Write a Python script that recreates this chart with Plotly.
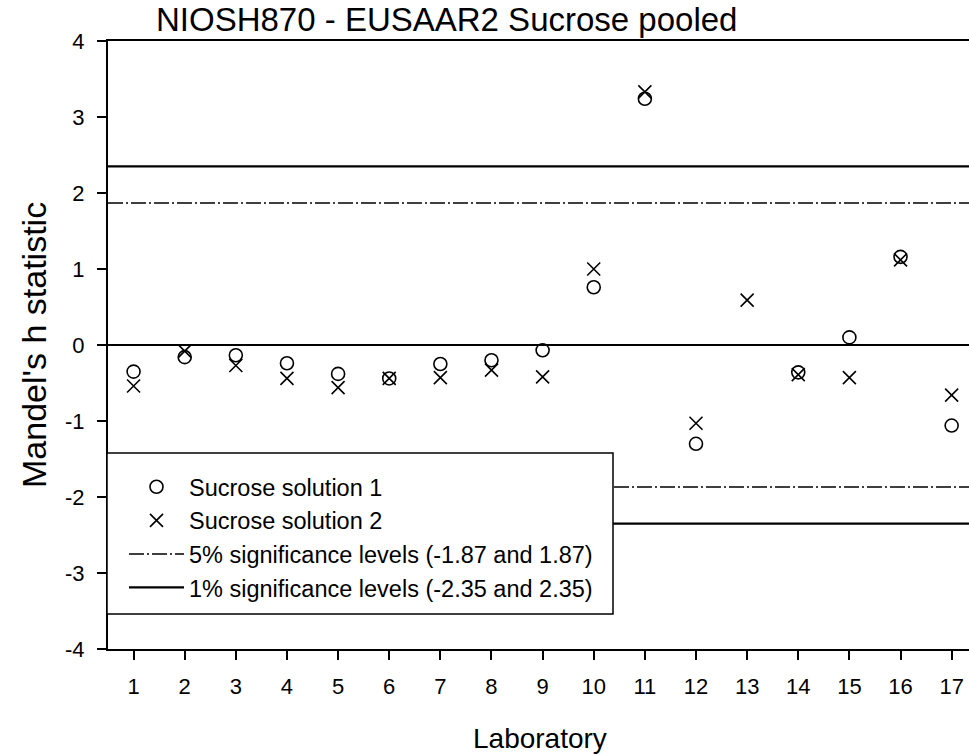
import plotly.graph_objects as go

# ---- data ----
laboratories = list(range(1, 18))
sucrose_1 = [-0.35, -0.16, -0.135, -0.24, -0.38, -0.44, -0.25, -0.20, -0.07,
             0.76, 3.24, -1.30, None, -0.36, 0.10, 1.16, -1.06]
sucrose_2 = [-0.54, -0.08, -0.27, -0.44, -0.56, -0.44, -0.43, -0.33, -0.42,
             1.00, 3.33, -1.03, 0.59, -0.39, -0.43, 1.12, -0.66]
level_5pct = 1.87
level_1pct = 2.35
title_text = "NIOSH870 - EUSAAR2 Sucrose pooled"
x_title = "Laboratory"
y_title = "Mandel's h statistic"
y_ticks = [-4, -3, -2, -1, 0, 1, 2, 3, 4]
y_ticklabels = ["-4", "-3", "-2", "-1", "0", "1", "2", "3", "4"]

FONT = "Arial, Liberation Sans, Arimo, sans-serif"
W, H = 969, 755
ML, MR, MT, MB = 108, 0, 41, 106
PW = W - ML - MR
PH = H - MT - MB


def px_x(p):
    return (p - ML) / PW


def px_y(p):
    return (H - MB - p) / PH


x_span = [laboratories[0] - 0.5, laboratories[-1] + 0.5]

fig = go.Figure()

# zero line
fig.add_trace(go.Scatter(x=x_span, y=[0, 0], mode="lines",
                         line=dict(color="black", width=2),
                         showlegend=False, hoverinfo="skip"))

fig.add_trace(go.Scatter(x=laboratories, y=sucrose_1, mode="markers",
                         name="Sucrose solution 1",
                         marker=dict(symbol="circle-open", size=13, color="black",
                                     line=dict(width=1.6, color="black"))))
fig.add_trace(go.Scatter(x=laboratories, y=sucrose_2, mode="markers",
                         name="Sucrose solution 2",
                         marker=dict(symbol="x-thin-open", size=13, color="black",
                                     line=dict(width=1.6, color="black"))))

dashdot = "15px,3px,2px,3px"
name5 = f"5% significance levels (-{level_5pct:.2f} and {level_5pct:.2f})"
name1 = f"1% significance levels (-{level_1pct:.2f} and {level_1pct:.2f})"
fig.add_trace(go.Scatter(x=x_span, y=[-level_5pct, -level_5pct], mode="lines",
                         name=name5, legendgroup="l5",
                         line=dict(color="black", width=1.5, dash=dashdot)))
fig.add_trace(go.Scatter(x=x_span, y=[level_5pct, level_5pct], mode="lines",
                         legendgroup="l5", showlegend=False,
                         line=dict(color="black", width=1.5, dash=dashdot)))
fig.add_trace(go.Scatter(x=x_span, y=[-level_1pct, -level_1pct], mode="lines",
                         name=name1, legendgroup="l1",
                         line=dict(color="black", width=2.2)))
fig.add_trace(go.Scatter(x=x_span, y=[level_1pct, level_1pct], mode="lines",
                         legendgroup="l1", showlegend=False,
                         line=dict(color="black", width=2.2)))

fig.update_layout(
    width=W, height=H,
    margin=dict(l=ML, r=MR, t=MT, b=MB, pad=0),
    paper_bgcolor="white", plot_bgcolor="white",
    font=dict(family=FONT, color="black", size=22),
    showlegend=True,
    legend=dict(x=px_x(124), y=px_y(465), xanchor="left", yanchor="top",
                bgcolor="rgba(0,0,0,0)", borderwidth=0,
                font=dict(family=FONT, size=23.5, color="black"),
                itemwidth=55, tracegroupgap=0),
    xaxis=dict(range=[0.5, 0.5 + PW / 51.13], tickvals=laboratories,
               showgrid=False, zeroline=False,
               showline=True, linecolor="black", linewidth=2, mirror=True,
               ticks="outside", ticklen=9, tickwidth=1.5, tickcolor="black",
               ticklabelstandoff=8,
               tickfont=dict(family=FONT, size=22)),
    yaxis=dict(range=[-4, 4], tickvals=y_ticks, ticktext=y_ticklabels,
               showgrid=False, zeroline=False,
               showline=True, linecolor="black", linewidth=2,
               ticks="outside", ticklen=9, tickwidth=1.5, tickcolor="black",
               ticklabelstandoff=8,
               tickfont=dict(family=FONT, size=22)),
    shapes=[dict(type="rect", xref="paper", yref="paper",
                 x0=px_x(107), x1=px_x(613), y0=px_y(614), y1=px_y(453),
                 line=dict(color="black", width=1.5), fillcolor="white",
                 layer="above")],
    annotations=[
        dict(text=title_text, xref="paper", yref="paper",
             x=px_x(154), y=px_y(20), xanchor="left", yanchor="middle",
             showarrow=False, font=dict(family=FONT, size=33, color="black")),
        dict(text=x_title, xref="paper", yref="paper",
             x=px_x(540), y=px_y(738), xanchor="center", yanchor="middle",
             showarrow=False, font=dict(family=FONT, size=28, color="black")),
        dict(text=y_title, xref="paper", yref="paper", textangle=-90,
             x=px_x(34), y=px_y(345), xanchor="center", yanchor="middle",
             showarrow=False, font=dict(family=FONT, size=34, color="black")),
    ],
)

fig.write_html(
    "out.html",
    config={"displayModeBar": False},
    post_script="document.body.style.margin='0';document.body.style.padding='0';"
                "document.body.style.overflow='hidden';",
)
